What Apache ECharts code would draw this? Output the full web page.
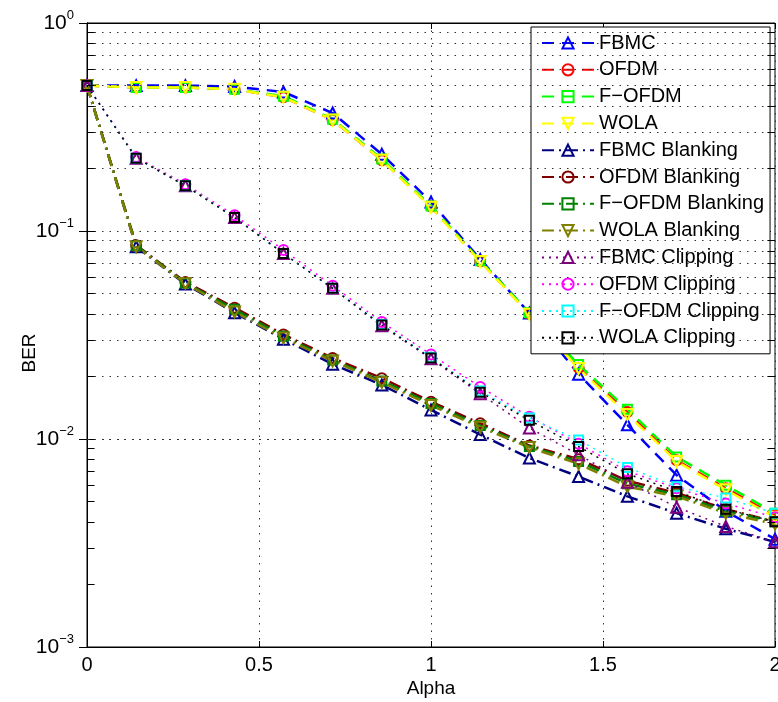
<!DOCTYPE html>
<html>
<head>
<meta charset="utf-8">
<script src="https://cdn.jsdelivr.net/npm/echarts@6/dist/echarts.min.js"></script>
<style>html,body{margin:0;padding:0;background:#fff}#c{width:778px;height:702px}</style>
</head>
<body>
<div id="c"></div>
<script>
// ---- data ----
const alpha = [0, 0.143, 0.286, 0.429, 0.571, 0.714, 0.857, 1.0, 1.143, 1.286, 1.429, 1.571, 1.714, 1.857, 2.0];
const seriesNames = ['FBMC','OFDM','F\u2212OFDM','WOLA','FBMC Blanking','OFDM Blanking','F\u2212OFDM Blanking','WOLA Blanking','FBMC Clipping','OFDM Clipping','F\u2212OFDM Clipping','WOLA Clipping'];
const fbmc      = [0.5, 0.5, 0.5, 0.495, 0.466, 0.369, 0.234, 0.138, 0.073, 0.0403, 0.0205, 0.0117, 0.0067, 0.0045, 0.0033];
const ofdm      = [0.5, 0.49, 0.49, 0.48, 0.44, 0.342, 0.219, 0.131, 0.0715, 0.0400, 0.0220, 0.0135, 0.0079, 0.0058, 0.0043];
const fofdm     = [0.5, 0.49, 0.49, 0.48, 0.445, 0.345, 0.222, 0.132, 0.072, 0.0405, 0.0228, 0.0139, 0.0082, 0.0060, 0.0044];
const wola      = [0.5, 0.49, 0.49, 0.48, 0.44, 0.342, 0.219, 0.130, 0.0713, 0.0398, 0.0218, 0.0131, 0.0078, 0.0057, 0.0042];
const fbmcBlank = [0.5, 0.084, 0.0556, 0.0405, 0.0302, 0.0229, 0.0182, 0.0138, 0.0105, 0.0081, 0.0066, 0.0053, 0.0044, 0.0037, 0.0032];
const ofdmBlank = [0.5, 0.0855, 0.0568, 0.0428, 0.0318, 0.0245, 0.0196, 0.0151, 0.0119, 0.0093, 0.0080, 0.0063, 0.0055, 0.0046, 0.0040];
const fofdmBlank= [0.5, 0.085, 0.0562, 0.042, 0.0312, 0.024, 0.019, 0.0148, 0.0116, 0.0092, 0.0078, 0.0061, 0.0054, 0.0045, 0.0040];
const wolaBlank = [0.5, 0.084, 0.056, 0.0408, 0.0306, 0.0237, 0.0187, 0.0145, 0.0114, 0.0091, 0.0076, 0.0059, 0.0053, 0.0044, 0.0039];
const fbmcClip  = [0.5, 0.224, 0.165, 0.116, 0.078, 0.0530, 0.0350, 0.0243, 0.0165, 0.0113, 0.0084, 0.0062, 0.0047, 0.0038, 0.0032];
const ofdmClip  = [0.5, 0.227, 0.168, 0.119, 0.081, 0.0545, 0.0365, 0.0255, 0.0178, 0.0128, 0.0095, 0.0070, 0.0058, 0.0049, 0.0042];
const fofdmClip = [0.5, 0.224, 0.165, 0.116, 0.078, 0.0530, 0.0355, 0.0247, 0.0170, 0.0126, 0.0099, 0.0073, 0.0059, 0.0052, 0.0044];
const wolaClip  = [0.5, 0.224, 0.165, 0.116, 0.078, 0.0530, 0.0353, 0.0245, 0.0168, 0.0123, 0.0092, 0.0068, 0.0056, 0.0046, 0.0040];
const xTicks = [0, 0.5, 1, 1.5, 2];
const yTicks = [0.001, 0.01, 0.1, 1];

// ---- styles ----
const FONT = '"Liberation Sans", Arial, Helvetica, sans-serif';
const triDown = 'path://M0,0 L10,0 L5,9 Z';
const DASH = [12, 8];
const DASHDOT = [12, 5, 2, 5];
const DOT = [2, 5];
const styleDefs = [
  {data: fbmc,       color: '#0000ff', dash: DASH,    sym: 'triangle', size: 11, w: 2.5},
  {data: ofdm,       color: '#ff0000', dash: DASH,    sym: 'circle',   size: 10, w: 2.5},
  {data: fofdm,      color: '#00ff00', dash: DASH,    sym: 'rect',     size: 9,  w: 2.5},
  {data: wola,       color: '#ffff00', dash: DASH,    sym: triDown,    size: 11, w: 2.5},
  {data: fbmcBlank,  color: '#000080', dash: DASHDOT, sym: 'triangle', size: 11, w: 2.5},
  {data: ofdmBlank,  color: '#800000', dash: DASHDOT, sym: 'circle',   size: 10, w: 2.5},
  {data: fofdmBlank, color: '#008000', dash: DASHDOT, sym: 'rect',     size: 9,  w: 2.5},
  {data: wolaBlank,  color: '#808000', dash: DASHDOT, sym: triDown,    size: 11, w: 2.5},
  {data: fbmcClip,   color: '#800080', dash: DOT,     sym: 'triangle', size: 11, w: 1.5},
  {data: ofdmClip,   color: '#ff00ff', dash: DOT,     sym: 'circle',   size: 10, w: 1.5},
  {data: fofdmClip,  color: '#00ffff', dash: DOT,     sym: 'rect',     size: 9,  w: 1.5},
  {data: wolaClip,   color: '#000000', dash: DOT,     sym: 'rect',     size: 9,  w: 1.5}
];

const minorVals = [];
[-3, -2, -1].forEach(e => { for (let m = 2; m <= 9; m++) minorVals.push(+(m * Math.pow(10, e)).toPrecision(3)); });

const series = styleDefs.map((s, i) => ({
  name: seriesNames[i],
  type: 'line',
  data: alpha.map((a, j) => [a, s.data[j]]),
  symbol: s.sym,
  symbolSize: s.size,
  showAllSymbol: true,
  lineStyle: {color: s.color, width: s.w, type: s.dash},
  itemStyle: {color: 'rgba(255,255,255,0)', borderColor: s.color, borderWidth: 2},
  emphasis: {disabled: true},
  z: 3
}));

// minor grid lines (log decades) and minor tick marks
const gridLine = {color: '#333', width: 1, type: [1.5, 6]};
series.push({
  type: 'line', data: [], silent: true, z: 1,
  markLine: {
    silent: true, symbol: 'none', animation: false,
    label: {show: false},
    lineStyle: gridLine,
    data: minorVals.map(v => ({yAxis: v}))
  }
});
series.push({
  type: 'line', data: [], silent: true, z: 1,
  markLine: {
    silent: true, symbol: 'none', animation: false,
    label: {show: false},
    lineStyle: {color: '#000', width: 1, type: 'solid'},
    data: minorVals.map(v => [{coord: [0, v]}, {coord: [0.022, v]}])
      .concat(minorVals.map(v => [{coord: [2, v]}, {coord: [1.978, v]}]))
  }
});

const supFmt = v => {
  const e = Math.round(Math.log10(v));
  return '{b|10}{s|' + (e < 0 ? '\u2212' + (-e) : String(e)) + '}';
};

const chart = echarts.init(document.getElementById('c'), null, {renderer: 'canvas'});
chart.setOption({
  animation: false,
  backgroundColor: '#fff',
  textStyle: {fontFamily: FONT},
  grid: {left: 87, top: 23, right: 3, bottom: 55, show: true, borderColor: '#000', borderWidth: 1,
    backgroundColor: 'transparent', containLabel: false, outerBoundsMode: 'none'},
  legend: {
    orient: 'vertical', left: 531, top: 27,
    padding: [6, 6, 6, 10],
    itemWidth: 52, itemHeight: 14, itemGap: 6.8,
    backgroundColor: '#fff', borderColor: '#000', borderWidth: 1, borderRadius: 0,
    textStyle: {fontSize: 20, lineHeight: 20, color: '#000', fontFamily: FONT},
    data: seriesNames,
    selectedMode: false
  },
  xAxis: [{
    type: 'value', min: 0, max: 2, interval: 0.5,
    name: 'Alpha', nameLocation: 'middle', nameGap: 32, nameMoveOverlap: false,
    nameTextStyle: {fontSize: 19, color: '#000', fontFamily: FONT},
    axisLine: {show: true, lineStyle: {color: '#000', width: 1}},
    axisTick: {show: true, inside: true, length: 6, lineStyle: {color: '#000'}},
    axisLabel: {fontSize: 20, color: '#000', margin: 8, fontFamily: FONT,
      formatter: v => (xTicks.indexOf(v) >= 0 ? String(v) : '')},
    splitLine: {show: true, lineStyle: gridLine}
  }, {
    type: 'value', min: 0, max: 2, interval: 0.5, position: 'top',
    axisLine: {show: true, lineStyle: {color: '#000'}},
    axisTick: {show: true, inside: true, length: 6, lineStyle: {color: '#000'}},
    axisLabel: {show: false}, splitLine: {show: false}
  }],
  yAxis: [{
    type: 'log', logBase: 10, min: 0.001, max: 1,
    name: 'BER', nameLocation: 'middle', nameGap: 48, nameRotate: 90, nameMoveOverlap: false,
    nameTextStyle: {fontSize: 19, color: '#000', fontFamily: FONT, padding: [0, 0, 0, -36]},
    axisLine: {show: true, lineStyle: {color: '#000', width: 1}},
    axisTick: {show: true, inside: true, length: 8, lineStyle: {color: '#000'}},
    axisLabel: {
      color: '#000', margin: 13, formatter: supFmt,
      rich: {
        b: {fontSize: 21, color: '#000', fontFamily: FONT},
        s: {fontSize: 13, color: '#000', fontFamily: FONT, padding: [0, 0, 15, 0]}
      }
    },
    splitLine: {show: true, lineStyle: gridLine},
    minorTick: {show: false}
  }, {
    type: 'log', logBase: 10, min: 0.001, max: 1, position: 'right',
    axisLine: {show: true, lineStyle: {color: '#000'}},
    axisTick: {show: true, inside: true, length: 8, lineStyle: {color: '#000'}},
    axisLabel: {show: false}, splitLine: {show: false}
  }],
  series: series
});
</script>
</body>
</html>
